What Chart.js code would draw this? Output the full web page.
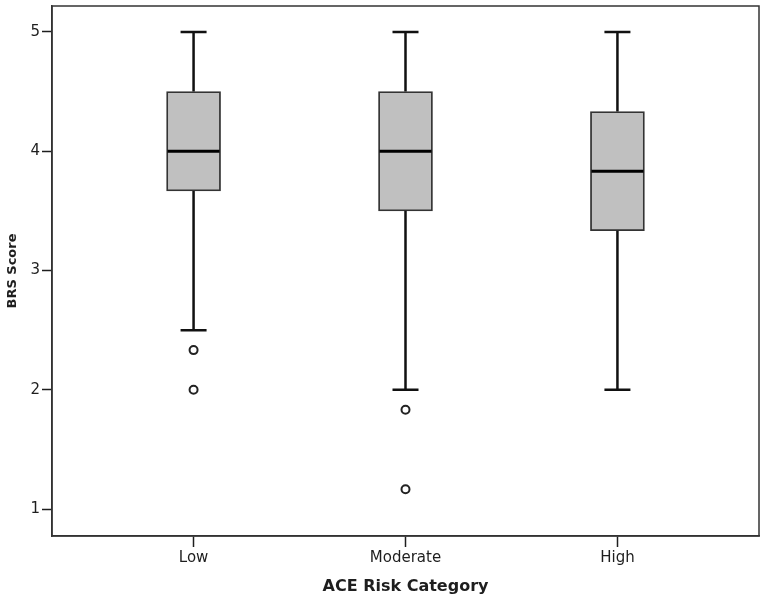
<!DOCTYPE html>
<html>
<head>
<meta charset="utf-8">
<script src="https://cdn.jsdelivr.net/npm/chart.js@4.4.1/dist/chart.umd.min.js"></script>
<style>
  html, body { margin: 0; padding: 0; background: #fff; }
  #wrap { width: 765px; height: 600px; }
</style>
</head>
<body>
<div id="wrap"><canvas id="boxChart" width="765" height="600"></canvas></div>
<script>
// --- DATA (afl\u00e6st fra figuren) ---
const categories = ['Low', 'Moderate', 'High'];
const whiskerMin = [2.5, 2.0, 2.0];
const q1 = [3.667, 3.5, 3.333];
const median = [4.0, 4.0, 3.833];
const q3 = [4.5, 4.5, 4.333];
const whiskerMax = [5.0, 5.0, 5.0];
const outliers = [[2.333, 2.0], [1.833, 1.167], []];
const yTicks = [1, 2, 3, 4, 5];

const ink = '#1e1e1e';
const fontFamily = '"DejaVu Sans", "Open Sans", sans-serif';

// Whiskers, caps og median tegnes via skalaerne
const boxExtras = {
    id: 'boxExtras',
    afterDatasetsDraw(chart) {
        const { ctx, scales: { x, y } } = chart;
        ctx.save();
        categories.forEach((c, i) => {
            const cx = x.getPixelForValue(i);
            const capHalf = 13, boxHalf = 27;
            ctx.strokeStyle = '#111';
            ctx.lineWidth = 2.5;
            ctx.beginPath();
            ctx.moveTo(cx, y.getPixelForValue(q3[i]));
            ctx.lineTo(cx, y.getPixelForValue(whiskerMax[i]));
            ctx.moveTo(cx, y.getPixelForValue(q1[i]));
            ctx.lineTo(cx, y.getPixelForValue(whiskerMin[i]));
            ctx.moveTo(cx - capHalf, y.getPixelForValue(whiskerMax[i]));
            ctx.lineTo(cx + capHalf, y.getPixelForValue(whiskerMax[i]));
            ctx.moveTo(cx - capHalf, y.getPixelForValue(whiskerMin[i]));
            ctx.lineTo(cx + capHalf, y.getPixelForValue(whiskerMin[i]));
            ctx.stroke();
            ctx.lineWidth = 3;
            ctx.strokeStyle = '#000';
            ctx.beginPath();
            ctx.moveTo(cx - boxHalf + 1, y.getPixelForValue(median[i]));
            ctx.lineTo(cx + boxHalf - 1, y.getPixelForValue(median[i]));
            ctx.stroke();
        });
        // ramme rundt om plotomr\u00e5det
        const a = chart.chartArea;
        ctx.lineWidth = 1.5;
        ctx.strokeStyle = '#333';
        ctx.strokeRect(a.left, a.top, a.right - a.left, a.bottom - a.top);
        ctx.restore();
    }
};

const outlierPoints = [];
outliers.forEach((vals, i) => vals.forEach(v => outlierPoints.push({ x: i, y: v })));

new Chart(document.getElementById('boxChart'), {
    type: 'bar',
    data: {
        datasets: [
            {
                label: 'IQR',
                data: categories.map((c, i) => ({ x: i, y: [q1[i], q3[i]] })),
                backgroundColor: '#c0c0c0',
                borderColor: '#333',
                borderWidth: 1.8,
                borderSkipped: false,
                barThickness: 54
            },
            {
                type: 'scatter',
                label: 'Outliers',
                data: outlierPoints,
                pointStyle: 'circle',
                pointRadius: 4,
                pointBorderWidth: 2,
                pointBackgroundColor: '#fff',
                pointBorderColor: '#222'
            }
        ]
    },
    options: {
        responsive: false,
        animation: false,
        layout: { padding: { top: 3, right: 2, left: 0, bottom: 0 } },
        plugins: { legend: { display: false }, tooltip: { enabled: false } },
        scales: {
            x: {
                type: 'linear',
                offset: false,
                min: -0.668,
                max: 2.668,
                afterBuildTicks: s => { s.ticks = categories.map((c, i) => ({ value: i })); },
                afterFit: s => { s.height = 64; s.paddingLeft = 0; s.paddingRight = 0; },
                ticks: {
                    callback: v => categories[v],
                    color: ink,
                    font: { family: fontFamily, size: 15 },
                    padding: 2,
                    maxRotation: 0,
                    autoSkip: false
                },
                grid: { display: true, offset: false, drawOnChartArea: false, drawTicks: true, tickLength: 11, tickColor: ink, tickWidth: 1.5 },
                border: { display: true, color: '#333', width: 1.5 },
                title: {
                    display: true,
                    text: 'ACE Risk Category',
                    color: ink,
                    font: { family: fontFamily, size: 16, weight: 'bold' },
                    padding: { top: 0, bottom: 4 }
                }
            },
            y: {
                min: 0.775,
                max: 5.217,
                afterBuildTicks: s => { s.ticks = yTicks.map(v => ({ value: v })); },
                afterFit: s => { s.width = 52; s.paddingTop = 0; s.paddingBottom = 0; },
                ticks: {
                    color: ink,
                    font: { family: fontFamily, size: 15 },
                    padding: 2
                },
                grid: { display: true, drawOnChartArea: false, drawTicks: true, tickLength: 10, tickColor: ink, tickWidth: 1.5 },
                border: { display: true, color: '#333', width: 1.5 },
                title: {
                    display: true,
                    text: 'BRS Score',
                    color: ink,
                    font: { family: fontFamily, size: 13, weight: 'bold' },
                    padding: { top: 5, bottom: 0 }
                }
            }
        }
    },
    plugins: [boxExtras]
});
</script>
</body>
</html>
